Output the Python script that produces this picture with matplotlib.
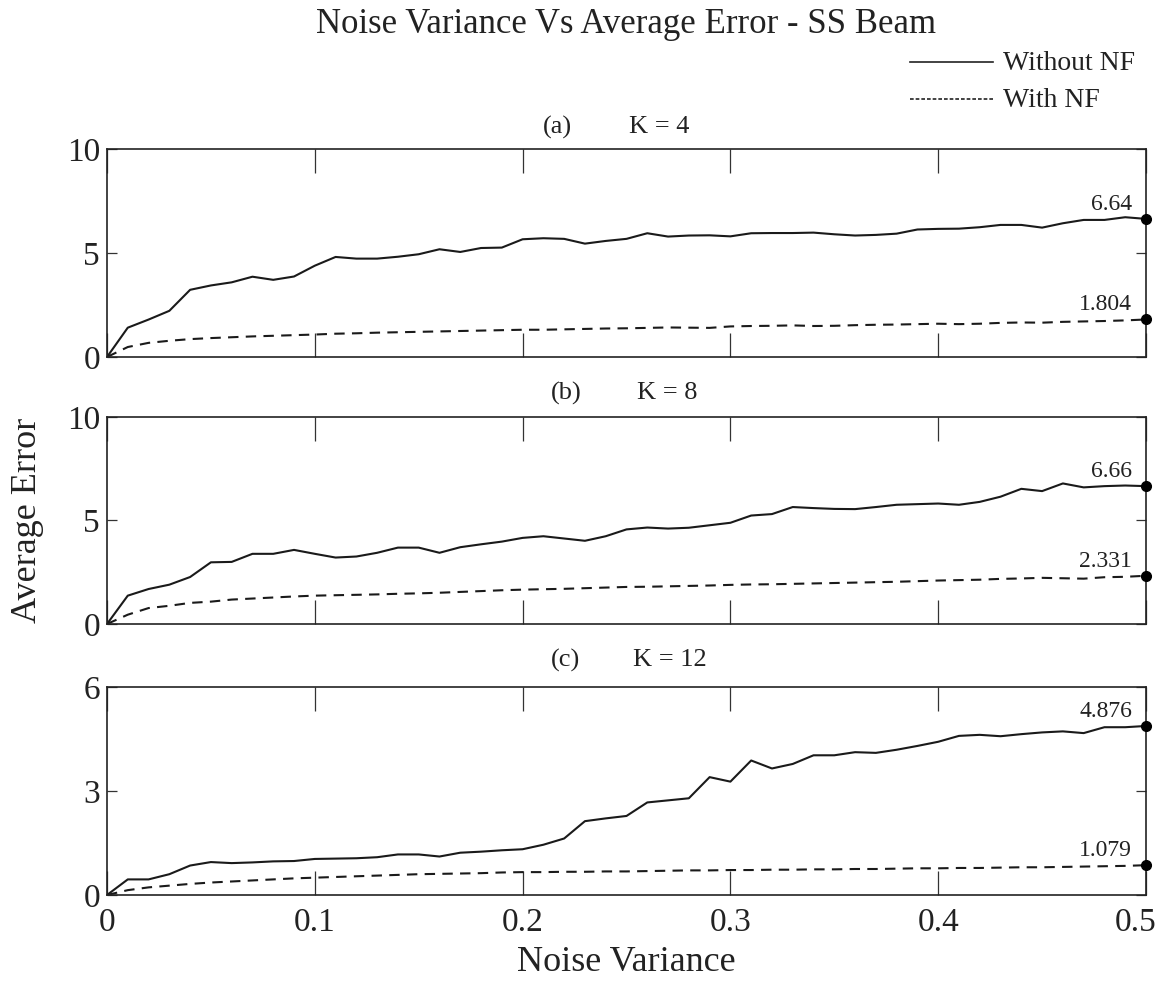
import matplotlib
matplotlib.use("Agg")
import matplotlib.pyplot as plt
from matplotlib.lines import Line2D
import matplotlib.transforms as mtransforms
import numpy as np

plt.rcParams['font.family'] = ['Liberation Serif', 'DejaVu Serif']

noise_variance = [round(0.01 * i, 2) for i in range(51)]

k4_without = [0, 1.41, 1.80, 2.22, 3.23, 3.44, 3.59, 3.86, 3.71, 3.87,
              4.39, 4.81, 4.73, 4.73, 4.82, 4.94, 5.18, 5.05, 5.24, 5.26,
              5.66, 5.71, 5.68, 5.45, 5.58, 5.68, 5.95, 5.79, 5.84, 5.85,
              5.80, 5.95, 5.96, 5.96, 5.98, 5.90, 5.84, 5.87, 5.93, 6.13,
              6.16, 6.17, 6.24, 6.35, 6.35, 6.22, 6.43, 6.59, 6.59, 6.72, 6.64]
k4_with = [0, 0.48, 0.68, 0.78, 0.86, 0.91, 0.95, 0.99, 1.02, 1.05,
           1.08, 1.12, 1.14, 1.17, 1.19, 1.21, 1.23, 1.25, 1.27, 1.29,
           1.31, 1.31, 1.33, 1.35, 1.37, 1.38, 1.40, 1.42, 1.41, 1.40,
           1.47, 1.49, 1.50, 1.52, 1.49, 1.50, 1.53, 1.55, 1.56, 1.58,
           1.60, 1.58, 1.60, 1.64, 1.66, 1.65, 1.69, 1.71, 1.73, 1.76, 1.804]

k8_without = [0, 1.37, 1.69, 1.90, 2.27, 2.98, 3.00, 3.39, 3.39, 3.58,
              3.39, 3.21, 3.26, 3.44, 3.69, 3.69, 3.44, 3.71, 3.85, 3.98,
              4.16, 4.24, 4.13, 4.02, 4.24, 4.57, 4.66, 4.61, 4.65, 4.77,
              4.89, 5.24, 5.31, 5.65, 5.60, 5.56, 5.55, 5.65, 5.76, 5.79,
              5.82, 5.76, 5.90, 6.15, 6.53, 6.42, 6.79, 6.60, 6.66, 6.69, 6.66]
k8_with = [0, 0.45, 0.77, 0.88, 1.02, 1.08, 1.18, 1.23, 1.28, 1.33,
           1.37, 1.39, 1.41, 1.43, 1.46, 1.48, 1.51, 1.55, 1.59, 1.63,
           1.66, 1.68, 1.70, 1.73, 1.76, 1.79, 1.80, 1.82, 1.84, 1.86,
           1.89, 1.91, 1.92, 1.94, 1.96, 1.98, 2.00, 2.02, 2.04, 2.07,
           2.10, 2.12, 2.14, 2.18, 2.20, 2.23, 2.21, 2.19, 2.26, 2.28, 2.331]

k12_without = [0, 0.45, 0.45, 0.60, 0.85, 0.95, 0.92, 0.94, 0.97, 0.98,
               1.04, 1.05, 1.06, 1.09, 1.17, 1.17, 1.11, 1.22, 1.25, 1.29,
               1.32, 1.45, 1.63, 2.13, 2.21, 2.28, 2.67, 2.73, 2.79, 3.40,
               3.27, 3.88, 3.65, 3.78, 4.03, 4.03, 4.12, 4.10, 4.19, 4.30,
               4.42, 4.59, 4.62, 4.58, 4.64, 4.69, 4.72, 4.67, 4.84, 4.84, 4.876]
k12_with = [0, 0.14, 0.22, 0.27, 0.32, 0.36, 0.39, 0.42, 0.45, 0.48,
            0.50, 0.52, 0.54, 0.56, 0.58, 0.60, 0.61, 0.62, 0.63, 0.65,
            0.66, 0.66, 0.67, 0.67, 0.68, 0.68, 0.69, 0.70, 0.71, 0.71,
            0.72, 0.72, 0.73, 0.73, 0.74, 0.74, 0.75, 0.75, 0.76, 0.77,
            0.77, 0.78, 0.78, 0.79, 0.80, 0.80, 0.81, 0.82, 0.83, 0.84, 0.86]

panel_labels = ["(a)", "(b)", "(c)"]
k_labels = ["K = 4", "K = 8", "K = 12"]
end_labels_without = ["6.64", "6.66", "4.876"]
end_labels_with = ["1.804", "2.331", "1.079"]
y_limits = [10, 10, 6]
y_ticks = [[0, 5, 10], [0, 5, 10], [0, 3, 6]]
x_ticks = [0, 0.1, 0.2, 0.3, 0.4, 0.5]
x_tick_labels = ["0", "0.1", "0.2", "0.3", "0.4", "0.5"]

W, H = 1158, 983
fig = plt.figure(figsize=(W / 100, H / 100), dpi=100)

def fx(px):
    return px / W

def fy(py):
    return 1 - py / H

panels = [(149, 357), (417, 624), (687, 895)]
series = [(k4_without, k4_with), (k8_without, k8_with), (k12_without, k12_with)]
sub_pos = [127, 393, 660]
sub_x = [(557, 659), (566, 667), (566, 670)]
TXT = '#222222'

left, right = 107, 1146
for i, ((top, bot), (s_wo, s_w)) in enumerate(zip(panels, series)):
    ax = fig.add_axes([fx(left), fy(bot), fx(right - left), (bot - top) / H])
    ax.plot(noise_variance, s_wo, color='#1a1a1a', lw=1.5)
    ax.plot(noise_variance, s_w, color='#1a1a1a', lw=1.5, linestyle=(0, (5, 3.5)))
    ax.plot([noise_variance[-1]], [s_wo[-1]], 'o', color='black', ms=7, clip_on=False, zorder=5)
    ax.plot([noise_variance[-1]], [s_w[-1]], 'o', color='black', ms=7, clip_on=False, zorder=5)
    ax.annotate(end_labels_without[i], (noise_variance[-1], s_wo[-1]),
                xytext=(-10, 3), textcoords='offset points', ha='right', va='bottom',
                fontsize=17, color=TXT)
    ax.annotate(end_labels_with[i], (noise_variance[-1], s_w[-1]),
                xytext=(-10, 3), textcoords='offset points', ha='right', va='bottom',
                fontsize=17, color=TXT)
    ax.set_xlim(0, 0.5)
    ax.set_ylim(0, y_limits[i])
    ax.set_xticks(x_ticks)
    ax.set_yticks(y_ticks[i])
    ax.set_yticklabels([str(v) for v in y_ticks[i]])
    ax.tick_params(axis='x', direction='in', top=True, bottom=True, length=17, width=0.9,
                   color='#333333', labelsize=24, pad=9)
    ax.tick_params(axis='y', direction='in', left=True, right=True, length=7, width=0.9,
                   color='#333333', labelsize=24, pad=5)
    if i < 2:
        ax.set_xticklabels([])
    else:
        ax.set_xticklabels(x_tick_labels)
        last = ax.get_xticklabels()[-1]
        last.set_horizontalalignment('right')
        last.set_transform(last.get_transform() +
                           mtransforms.ScaledTranslation(11 / 100, 0, fig.dpi_scale_trans))
        ax.set_xlabel("Noise Variance", fontsize=26, labelpad=6, color=TXT)
    for sp in ax.spines.values():
        sp.set_linewidth(1.2)
        sp.set_color(TXT)
    for lbl in ax.get_xticklabels() + ax.get_yticklabels():
        lbl.set_color(TXT)
    fig.text(fx(sub_x[i][0]), fy(sub_pos[i]), panel_labels[i], ha='center', va='center',
             fontsize=19, color=TXT)
    fig.text(fx(sub_x[i][1]), fy(sub_pos[i]), k_labels[i], ha='center', va='center',
             fontsize=19, color=TXT)

fig.text(fx(626), fy(33), "Noise Variance Vs Average Error - SS Beam", ha='center',
         va='baseline', fontsize=25, color=TXT)
fig.text(fx(28), fy(520), "Average Error", rotation=90, ha='center', va='center',
         fontsize=26, color=TXT)

# legend
fig.add_artist(Line2D([fx(910), fx(993)], [fy(62), fy(62)], color=TXT, lw=1.2))
fig.add_artist(Line2D([fx(910), fx(993)], [fy(99), fy(99)], color=TXT, lw=1.2,
                      linestyle=(0, (2.2, 1.2))))
fig.text(fx(1003), fy(70), "Without NF", ha='left', va='baseline', fontsize=20, color=TXT)
fig.text(fx(1003), fy(107), "With NF", ha='left', va='baseline', fontsize=20, color=TXT)

fig.savefig("out.png", dpi=100)
